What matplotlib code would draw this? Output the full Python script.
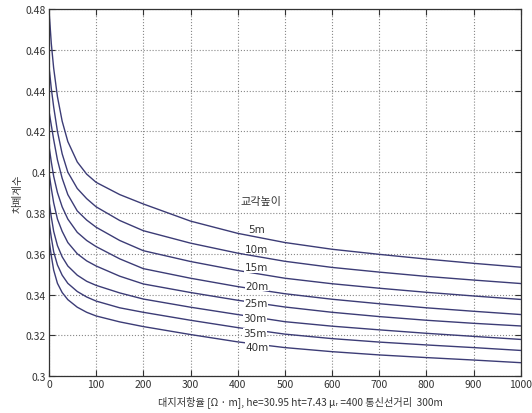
import numpy as np
import matplotlib
matplotlib.use("Agg")
import matplotlib.pyplot as plt

plt.rcParams['font.family'] = ['Noto Sans CJK KR', 'DejaVu Sans']

# earth resistivity [ohm m]
rho = [0, 5, 10, 18, 28, 40, 60, 80, 100, 150, 200, 300, 400, 500, 600, 700, 800, 900, 1000]

# shielding coefficient for each pier height
k_5m = [0.480, 0.463, 0.451, 0.437, 0.425, 0.415, 0.405, 0.399, 0.395, 0.389, 0.3844,
        0.3760, 0.3700, 0.3655, 0.3622, 0.3597, 0.3574, 0.3553, 0.3534]
k_10m = [0.452, 0.441, 0.432, 0.420, 0.409, 0.400, 0.392, 0.387, 0.383, 0.3763, 0.3713,
         0.3652, 0.3603, 0.3563, 0.3533, 0.3510, 0.3489, 0.3471, 0.3454]
k_15m = [0.430, 0.423, 0.416, 0.406, 0.397, 0.389, 0.381, 0.3765, 0.373, 0.3665, 0.3615,
         0.3562, 0.3518, 0.3480, 0.3453, 0.3431, 0.3411, 0.3393, 0.3376]
k_20m = [0.413, 0.405, 0.398, 0.390, 0.383, 0.377, 0.3705, 0.3665, 0.3635, 0.3575, 0.3527,
         0.3480, 0.3439, 0.3404, 0.3377, 0.3355, 0.3335, 0.3318, 0.3302]
k_25m = [0.400, 0.392, 0.385, 0.377, 0.371, 0.3655, 0.360, 0.3565, 0.354, 0.349, 0.3452,
         0.3410, 0.3372, 0.3339, 0.3313, 0.3292, 0.3274, 0.3259, 0.3246]
k_30m = [0.386, 0.378, 0.371, 0.364, 0.3585, 0.354, 0.3495, 0.3465, 0.3445, 0.3408, 0.3378,
         0.3338, 0.3302, 0.3267, 0.3245, 0.3227, 0.3210, 0.3195, 0.3180]
k_35m = [0.376, 0.368, 0.361, 0.3545, 0.3495, 0.3455, 0.3415, 0.3388, 0.3368, 0.3335, 0.3313,
         0.3274, 0.3238, 0.3206, 0.3184, 0.3167, 0.3153, 0.3140, 0.3126]
k_40m = [0.367, 0.359, 0.352, 0.3455, 0.341, 0.3375, 0.3338, 0.3313, 0.3295, 0.3266, 0.3243,
         0.3204, 0.3168, 0.3140, 0.3120, 0.3104, 0.3091, 0.3079, 0.3066]

curves = [k_5m, k_10m, k_15m, k_20m, k_25m, k_30m, k_35m, k_40m]
heights = ["5m", "10m", "15m", "20m", "25m", "30m", "35m", "40m"]
label_x = [440, 440, 440, 440, 438, 436, 437, 440]
label_y = [0.3722, 0.3624, 0.3534, 0.3444, 0.3359, 0.3284, 0.3210, 0.3142]

fig = plt.figure(figsize=(5.32, 4.14), dpi=100)
ax = fig.add_axes([0.092, 0.089, 0.887, 0.887])

for k in curves:
    ax.plot(rho, k, color="#3c3c76", linewidth=1.0)

for h, lx, ly in zip(heights, label_x, label_y):
    ax.text(lx, ly, h, fontsize=7.5, ha="center", va="center", color="#333333",
            family=['DejaVu Sans'],
            bbox=dict(facecolor="white", edgecolor="none", pad=0.3))
ax.text(449, 0.386, "교각높이", fontsize=8, ha="center", va="center", color="#333333")

ax.set_xlim(0, 1000)
ax.set_ylim(0.3, 0.48)
ax.set_xticks(np.arange(0, 1001, 100))
ax.set_yticks(np.arange(0.3, 0.481, 0.02))
ax.set_yticklabels(["0.3", "0.32", "0.34", "0.36", "0.38", "0.4", "0.42", "0.44", "0.46", "0.48"])
ax.grid(True, linestyle=":", color="#888888", linewidth=0.8)
ax.tick_params(direction="in", top=True, right=True, length=4, labelsize=7.5,
               colors="#333333", pad=2)
for sp in ax.spines.values():
    sp.set_color("#333333")
    sp.set_linewidth(0.9)

ax.set_xlabel("대지저항율 [Ω · m], he=30.95 ht=7.43 μᵣ =400 통신선거리  300m",
              fontsize=7.3, color="#333333", labelpad=6)
ax.xaxis.set_label_coords(0.532, -0.052)
ax.set_ylabel("차폐계수", fontsize=7.5, color="#333333", labelpad=2)

fig.savefig("out.png", dpi=100)
